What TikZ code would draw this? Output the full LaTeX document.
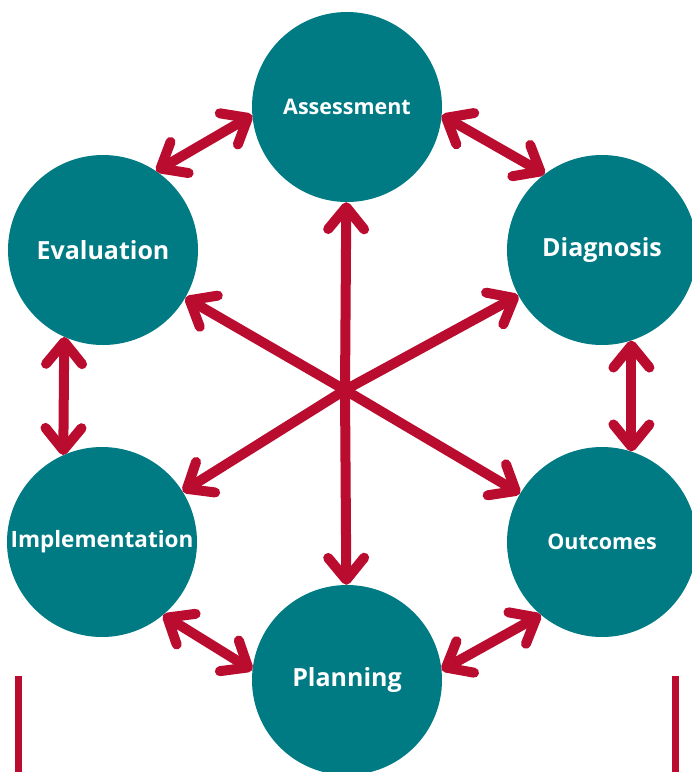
\documentclass[tikz,border=0pt]{standalone}
\usepackage{fontspec}
\setmainfont{Open Sans}
\usetikzlibrary{arrows.meta}

\definecolor{phaseteal}{HTML}{007A83}
\definecolor{linkred}{HTML}{BA0C2F}

\begin{document}
\begin{tikzpicture}[x=1pt, y=-1pt,
  phase/.style={circle, fill=phaseteal, text=white, minimum size=190pt, inner sep=0pt, font=\bfseries\fontsize{25}{30}\selectfont},
  small/.style={font=\bfseries\fontsize{21.5}{26}\selectfont},
  >={Straight Barb[length=22pt, width=36pt, round]},
  link/.style={linkred, line width=10pt, line cap=round, <->},
  spoke/.style={linkred, line width=10pt, line cap=round, ->}]
\useasboundingbox (0,0) rectangle (692,772);

% the six phases
\node[phase, small] (asmt) at (347,107) {Assessment};
\node[phase] (diag) at (602,250) {Diagnosis};
\node[phase, small] (outc) at (602,542) {Outcomes};
\node[phase] (plan) at (347,680) {Planning};
\node[phase, font=\bfseries\fontsize{22.5}{27}\selectfont] (impl) at (102,542) {Implementation};
\node[phase] (eval) at (103,250) {Evaluation};

% ring of double arrows
\draw[link] (asmt.185) -- (eval.56);
\draw[link] (asmt.355) -- (diag.127);
\draw[link] (diag.288) -- (outc.72);
\draw[link] (outc.230) -- (plan.6);
\draw[link] (plan.174) -- (impl.310);
\draw[link] (impl.114) -- (eval.246);

% spokes from the middle
\coordinate (hub) at (345,390);
\foreach \p in {asmt, diag, outc, plan, impl, eval}
  \draw[spoke] (hub) -- (\p);

% side bars
\draw[linkred, line width=7pt] (18.5,676) -- (18.5,772);
\draw[linkred, line width=7pt] (675.5,676) -- (675.5,772);
\end{tikzpicture}
\end{document}
